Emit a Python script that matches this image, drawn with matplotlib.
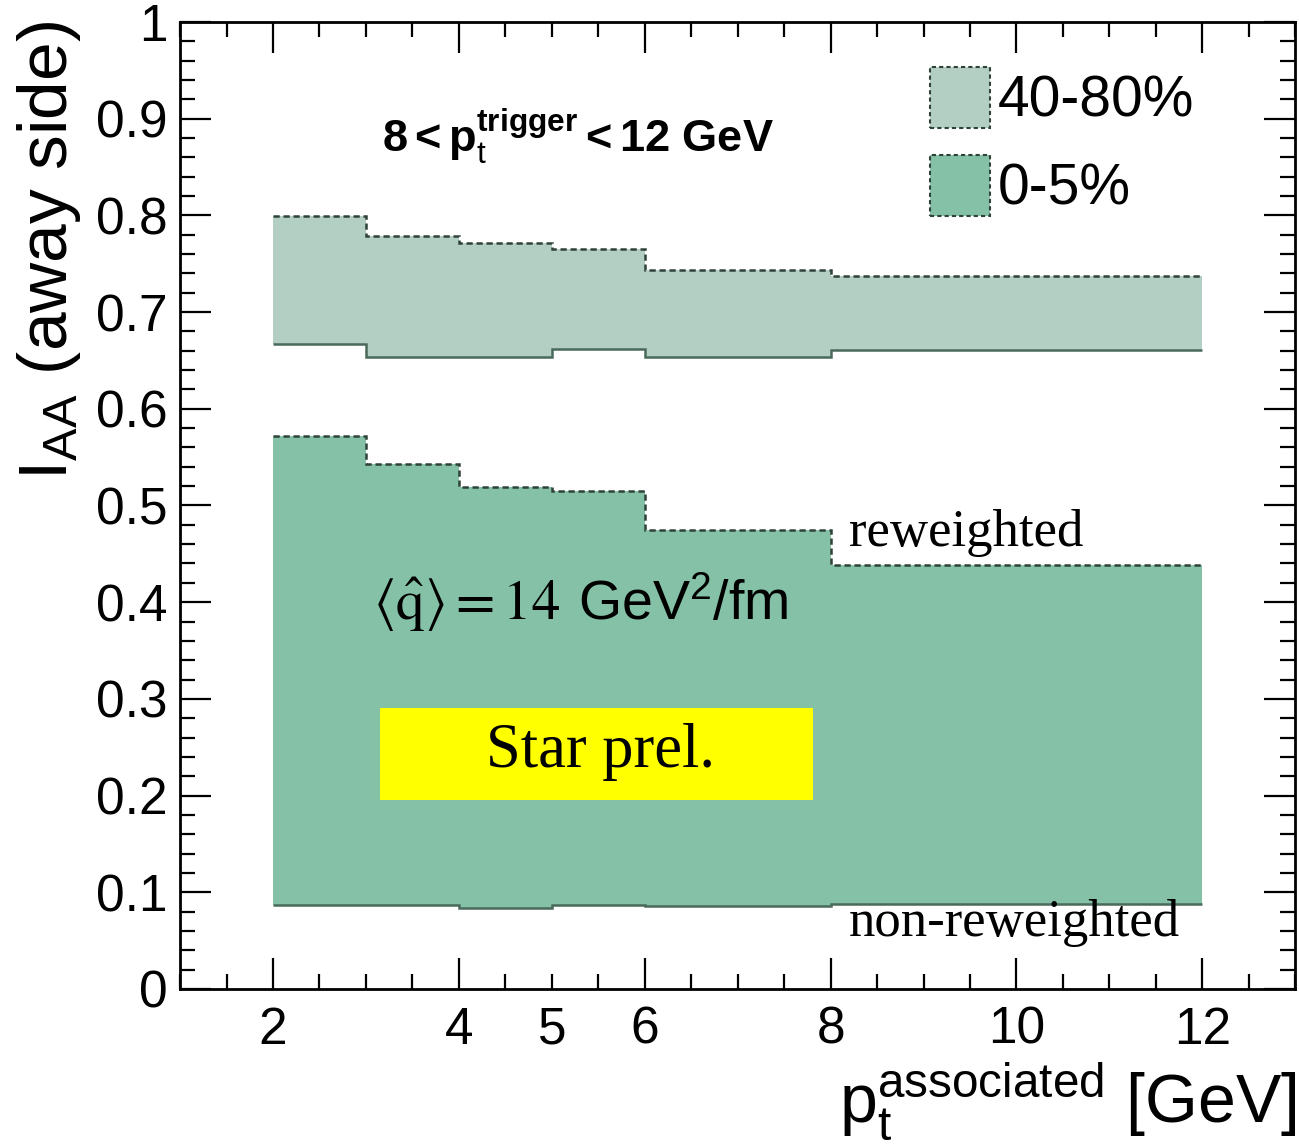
import numpy as np
import matplotlib
matplotlib.use("Agg")
import matplotlib.pyplot as plt
from matplotlib.patches import Patch, Rectangle
from matplotlib.ticker import MultipleLocator, FixedLocator, FuncFormatter

plt.rcParams['font.family'] = ['Liberation Sans', 'DejaVu Sans']
plt.rcParams['mathtext.fontset'] = 'custom'
plt.rcParams['mathtext.rm'] = 'Liberation Sans'
plt.rcParams['mathtext.it'] = 'Liberation Sans:italic'
plt.rcParams['mathtext.bf'] = 'Liberation Sans:bold'

# bin edges in p_t associated (GeV)
edges = [2, 3, 4, 5, 6, 8, 12]

# I_AA bands, 40-80% centrality
peri_hi = [0.799, 0.779, 0.771, 0.765, 0.744, 0.737]
peri_lo = [0.667, 0.654, 0.654, 0.662, 0.654, 0.661]

# I_AA bands, 0-5% centrality
cent_hi = [0.572, 0.543, 0.519, 0.515, 0.475, 0.438]
cent_lo = [0.087, 0.087, 0.084, 0.087, 0.086, 0.088]

labels = ["40-80%", "0-5%"]
fill_cols = ["#b3cec3", "#84c1a6"]
edge_col = "#2e4238"

fig = plt.figure(figsize=(12.99, 11.44), dpi=100)
ax = fig.add_axes([0.1386, 0.1355, 0.8585, 0.8453])

for hi, lo, col in [(peri_hi, peri_lo, fill_cols[0]), (cent_hi, cent_lo, fill_cols[1])]:
    ax.stairs(hi, edges, baseline=lo, fill=True, color=col, lw=0)
    ax.stairs(hi, edges, baseline=None, color=edge_col, lw=1.8, ls=(0, (2.5, 1.5)))
    ax.stairs(lo, edges, baseline=None, color="#4a6a5b", lw=1.8)

ax.set_xlim(1, 13)
ax.set_ylim(0, 1)

# axis ticks, ROOT style
ax.xaxis.set_major_locator(FixedLocator([2, 4, 6, 8, 10, 12]))
ax.xaxis.set_minor_locator(MultipleLocator(0.5))
ax.xaxis.set_minor_formatter(FuncFormatter(lambda v, p: "5" if abs(v - 5) < 1e-6 else ""))
ax.yaxis.set_major_locator(MultipleLocator(0.1))
ax.yaxis.set_minor_locator(MultipleLocator(0.02))
ax.yaxis.set_major_formatter(FuncFormatter(lambda v, p: "0" if abs(v) < 1e-6 else ("1" if abs(v - 1) < 1e-6 else "%.1f" % v)))
ax.tick_params(which='both', direction='in', top=True, right=True, width=1.6, labelsize=37)
ax.tick_params(which='major', length=22)
ax.tick_params(which='minor', length=11)
ax.tick_params(axis='x', which='both', pad=12)
ax.tick_params(axis='y', which='both', pad=9)
for s in ax.spines.values():
    s.set_linewidth(2)

# legend
handles = [Patch(facecolor=c, edgecolor=edge_col, ls=(0, (2, 1.5)), lw=1.5) for c in fill_cols]
ax.legend(handles, labels, loc='upper left', bbox_to_anchor=(930 / 1299, 1 - 67 / 1144),
          bbox_transform=fig.transFigure, frameon=False, fontsize=41,
          handlelength=1.05, handleheight=1.26, handletextpad=0.14,
          labelspacing=0.47, borderpad=0, borderaxespad=0)

# annotations
ax.text(3.17, 0.866, r'$\mathbf{8 < p_{\mathrm{t}}^{trigger} < 12\ GeV}$', fontsize=32.5)
ax.text(3.08, 0.382, r'$\langle\hat{\mathrm{q}}\rangle = 14$', fontsize=41, math_fontfamily='stix')
ax.text(5.28, 0.382, r'$\mathrm{GeV}^{2}/\mathrm{fm}$', fontsize=40)
ax.text(8.2, 0.458, "reweighted", fontsize=38, family='Liberation Serif')
ax.text(8.2, 0.055, "non-reweighted", fontsize=38, family='Liberation Serif')
ax.add_patch(Rectangle((3.15, 0.195), 4.66, 0.096, facecolor='#ffff00', edgecolor='none', zorder=3))
ax.text(5.52, 0.245, "Star prel.", fontsize=45, family='Liberation Serif', ha='center', va='center', zorder=4)

# axis titles
fig.text(0.998, 0.002, r'$\mathrm{p}_{\mathrm{t}}^{\mathrm{associated}}$ [GeV]', fontsize=49, ha='right', va='bottom')
fig.text(0.038, 0.982, r'$\mathrm{I}_{\mathrm{AA}}$ (away side)', fontsize=50, rotation=90, ha='center', va='top')

fig.savefig("out.png", dpi=100)
